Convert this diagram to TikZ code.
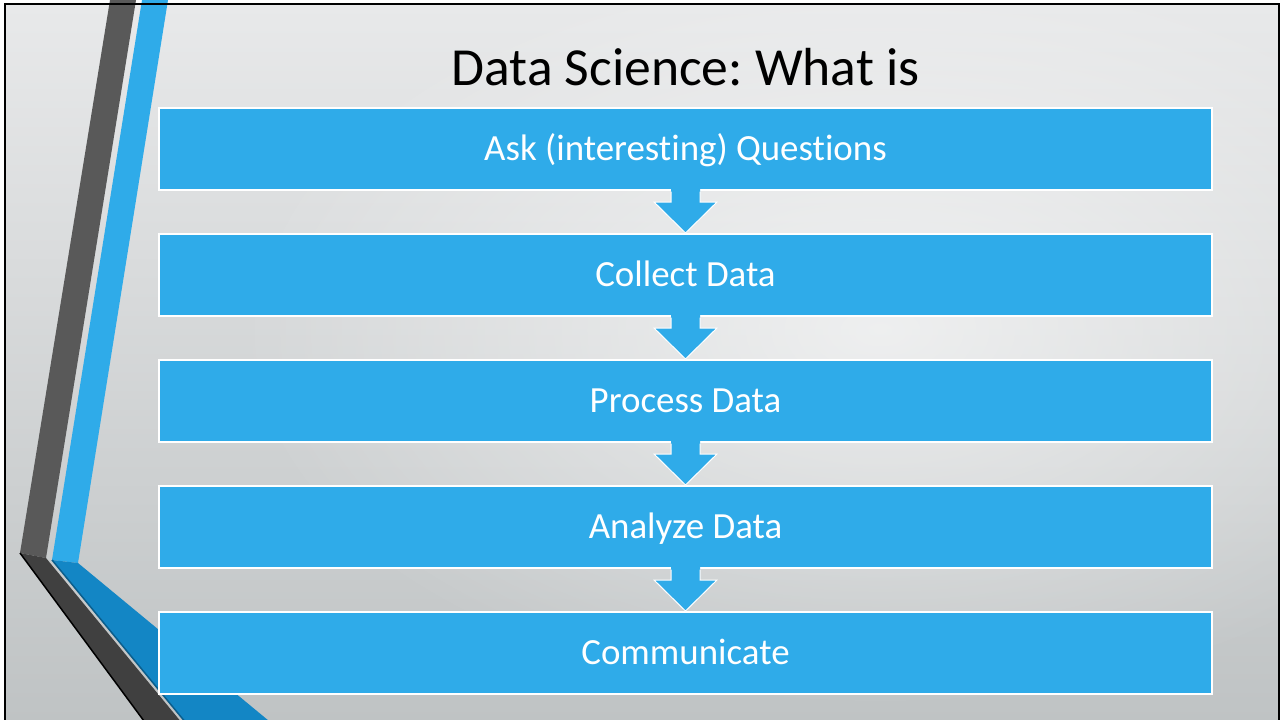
\documentclass[tikz,border=0pt]{standalone}
\usepackage{fontspec}
\setmainfont{Carlito}[Ligatures=NoCommon]
\usetikzlibrary{calc,fadings}
\definecolor{slideblue}{RGB}{47,171,233}
\definecolor{deepblue}{RGB}{19,134,197}
\definecolor{edgeblue}{RGB}{11,94,140}
\definecolor{bandgray}{RGB}{89,89,89}
\definecolor{banddark}{RGB}{64,64,64}
\definecolor{bgtop}{RGB}{232,233,234}
\definecolor{bgbot}{RGB}{190,194,195}
\tikzfading[name=glow,inner color=transparent!0,outer color=transparent!100]
\frenchspacing

\begin{document}
\begin{tikzpicture}[x=0.2mm,y=-0.2mm]
\tikzset{box/.style={fill=slideblue,draw=white,line width=0.4mm,minimum width=210.6mm,
  minimum height=16.4mm,text=white,font=\fontsize{21}{25}\selectfont,text height=4.5mm,text depth=0mm}}
\newcommand\flowarr[2]{
  \fill[slideblue] ($(#1.south)+(-14.5,-2)$) -- ($(#2.north)+(-14.5,-31)$) -- ($(#2.north)+(-31.5,-31)$)
    -- (#2.north) -- ($(#2.north)+(31.5,-31)$) -- ($(#2.north)+(14.5,-31)$) -- ($(#1.south)+(14.5,-2)$) -- cycle;
  \draw[white,line width=0.2mm] ($(#1.south)+(-14.5,0.5)$) -- ($(#2.north)+(-14.5,-31)$) -- ($(#2.north)+(-31.5,-31)$)
    -- (#2.north) -- ($(#2.north)+(31.5,-31)$) -- ($(#2.north)+(14.5,-31)$) -- ($(#1.south)+(14.5,0.5)$);
}
\useasboundingbox (0,0) rectangle (1284,719);
\clip (0,0) rectangle (1284,719);
\fill[top color=bgtop,bottom color=bgbot] (5,4) rectangle (1279,740);
\fill[white,opacity=.6,path fading=glow] (880,330) ellipse [x radius=650,y radius=380];

\fill[bandgray] (110,0) -- (136,0) -- (46,558) -- (20,553) -- cycle;
\fill[banddark] (20,553) -- (46,558) -- (196,740) -- (158,740) -- cycle;
\draw[black,line width=0.3mm] (20,553) -- (158,740);
\fill[slideblue] (142,0) -- (168,0) -- (78,563) -- (52,560) -- cycle;
\fill[deepblue] (52,560) -- (78,563) -- (292,740) -- (200,740) -- cycle;
\draw[edgeblue,line width=0.3mm] (52,560) -- (200,740);

\node[font=\fontsize{30.5}{36}\selectfont,anchor=base] (title) at (685.5,85) {Data Science: What is};
\foreach \name/\txt [count=\i from 0] in {ask/Ask (interesting) Questions,collect/Collect Data,
    process/Process Data,analyze/Analyze Data,comm/Communicate}
  \node[box] (\name) at (685.5,149+126*\i) {\txt};
\foreach \a/\b in {ask/collect,collect/process,process/analyze,analyze/comm}
  \flowarr{\a}{\b};

\draw[line width=0.5mm] (5,4) rectangle (1279,740);
\end{tikzpicture}
\end{document}
